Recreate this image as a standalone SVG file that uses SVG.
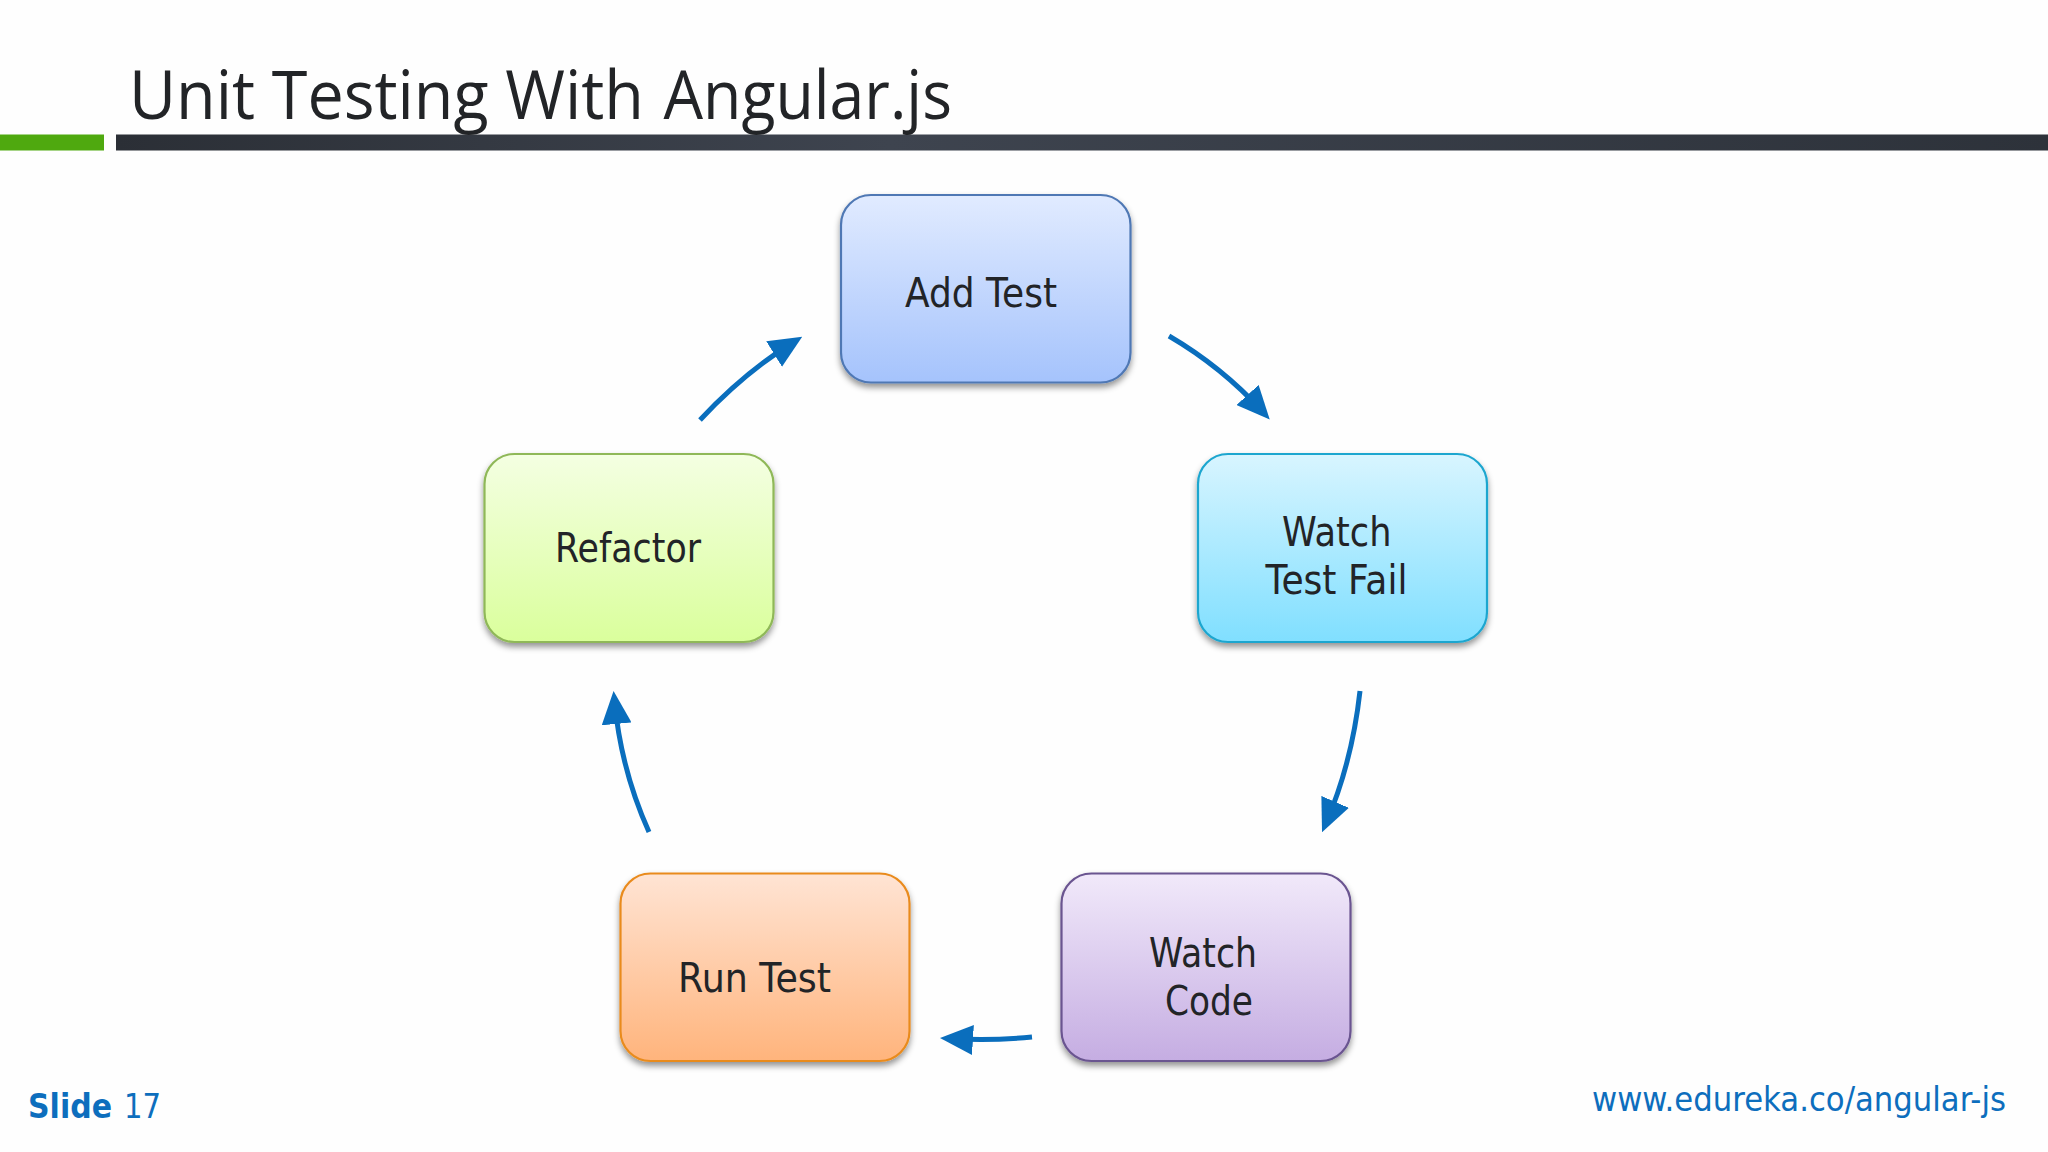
<svg xmlns="http://www.w3.org/2000/svg" width="2048" height="1152" viewBox="0 0 2048 1152">
<style>
.box{stroke-width:2.2;filter:url(#sh)}
.lb{font-family:"DejaVu Sans",Verdana,sans-serif;font-size:40px;fill:#222427}
.ft{font-family:"DejaVu Sans",Verdana,sans-serif;fill:#0D6EBD}
.cn{fill:none;stroke:#0A6EBD;stroke-width:5;marker-end:url(#ah)}
</style>
<defs>
<filter id="sh" x="-10%" y="-10%" width="120%" height="125%"><feDropShadow dx="0" dy="4" stdDeviation="3" flood-color="#000" flood-opacity="0.42"/></filter>
<marker id="ah" markerUnits="userSpaceOnUse" markerWidth="33" markerHeight="30" refX="23" refY="15" orient="auto"><path d="M0 0L33 15L0 30z" fill="#0A6EBD"/></marker>
<linearGradient id="gb" x1="0" y1="0" x2="0" y2="1"><stop offset="0" stop-color="#E1EBFF"/><stop offset="1" stop-color="#A5C3FC"/></linearGradient>
<linearGradient id="gc" x1="0" y1="0" x2="0" y2="1"><stop offset="0" stop-color="#D8F5FF"/><stop offset="1" stop-color="#80DFFF"/></linearGradient>
<linearGradient id="gg" x1="0" y1="0" x2="0" y2="1"><stop offset="0" stop-color="#F4FFE2"/><stop offset="1" stop-color="#DAFF9C"/></linearGradient>
<linearGradient id="go" x1="0" y1="0" x2="0" y2="1"><stop offset="0" stop-color="#FFE4D4"/><stop offset="1" stop-color="#FFB47C"/></linearGradient>
<linearGradient id="gp" x1="0" y1="0" x2="0" y2="1"><stop offset="0" stop-color="#F1E9FA"/><stop offset="1" stop-color="#C5ADE2"/></linearGradient>
<linearGradient id="gd" x1="0" y1="0" x2="1" y2="0"><stop offset="0" stop-color="#2B2F36"/><stop offset="0.4" stop-color="#3E444F"/><stop offset="1" stop-color="#2D323A"/></linearGradient>
</defs>
<rect width="2048" height="1152" fill="#FEFEFE"/>
<rect x="0" y="134.500" width="104" height="16" fill="#4FA90F"/>
<rect x="116" y="134.500" width="1932" height="16" fill="url(#gd)"/>
<text y="119" font-family="'Open Sans',sans-serif" font-size="67" fill="#222427"><tspan x="129" textLength="515" lengthAdjust="spacingAndGlyphs">Unit Testing With</tspan> <tspan x="663.500" textLength="288.500" lengthAdjust="spacingAndGlyphs">Angular.js</tspan></text>
<g id="connectors">
<path class="cn" d="M1169 336Q1222 367 1263 412"/>
<path class="cn" d="M1360 691Q1352 763 1326 823"/>
<path class="cn" d="M1032 1037Q990 1041 950 1038.500"/>
<path class="cn" d="M649 832Q621 770 614.500 701"/>
<path class="cn" d="M700 420Q745 372 793.700 342"/>
</g>
<g id="add-test"><rect class="box" x="841" y="195" width="289.500" height="187.500" rx="30" fill="url(#gb)" stroke="#4F78B4"/><text class="lb" x="905" y="307" textLength="152" lengthAdjust="spacingAndGlyphs">Add Test</text></g>
<g id="watch-test-fail"><rect class="box" x="1198" y="454" width="289" height="188" rx="30" fill="url(#gc)" stroke="#1EA6CF"/><text class="lb" x="1282" y="546" textLength="109.500" lengthAdjust="spacingAndGlyphs">Watch</text><text class="lb" x="1265.500" y="593.500" textLength="142" lengthAdjust="spacingAndGlyphs">Test Fail</text></g>
<g id="watch-code"><rect class="box" x="1061.500" y="873.500" width="289" height="187.500" rx="30" fill="url(#gp)" stroke="#6A5490"/><text class="lb" x="1149" y="967" textLength="108" lengthAdjust="spacingAndGlyphs">Watch</text><text class="lb" x="1165" y="1015" textLength="88" lengthAdjust="spacingAndGlyphs">Code</text></g>
<g id="run-test"><rect class="box" x="620.500" y="873.500" width="289" height="187.500" rx="30" fill="url(#go)" stroke="#E98B1F"/><text class="lb" x="678" y="992" textLength="153" lengthAdjust="spacingAndGlyphs">Run Test</text></g>
<g id="refactor"><rect class="box" x="484.500" y="454" width="289" height="188" rx="30" fill="url(#gg)" stroke="#8FB858"/><text class="lb" x="555" y="562" textLength="146" lengthAdjust="spacingAndGlyphs">Refactor</text></g>
<text class="ft" x="28" y="1118" font-size="34" font-weight="700" textLength="84" lengthAdjust="spacingAndGlyphs">Slide</text>
<text class="ft" x="124" y="1118" font-size="34" textLength="37" lengthAdjust="spacingAndGlyphs">17</text>
<text class="ft" x="1592" y="1111" font-size="33" textLength="414" lengthAdjust="spacingAndGlyphs">www.edureka.co/angular-js</text>
</svg>
